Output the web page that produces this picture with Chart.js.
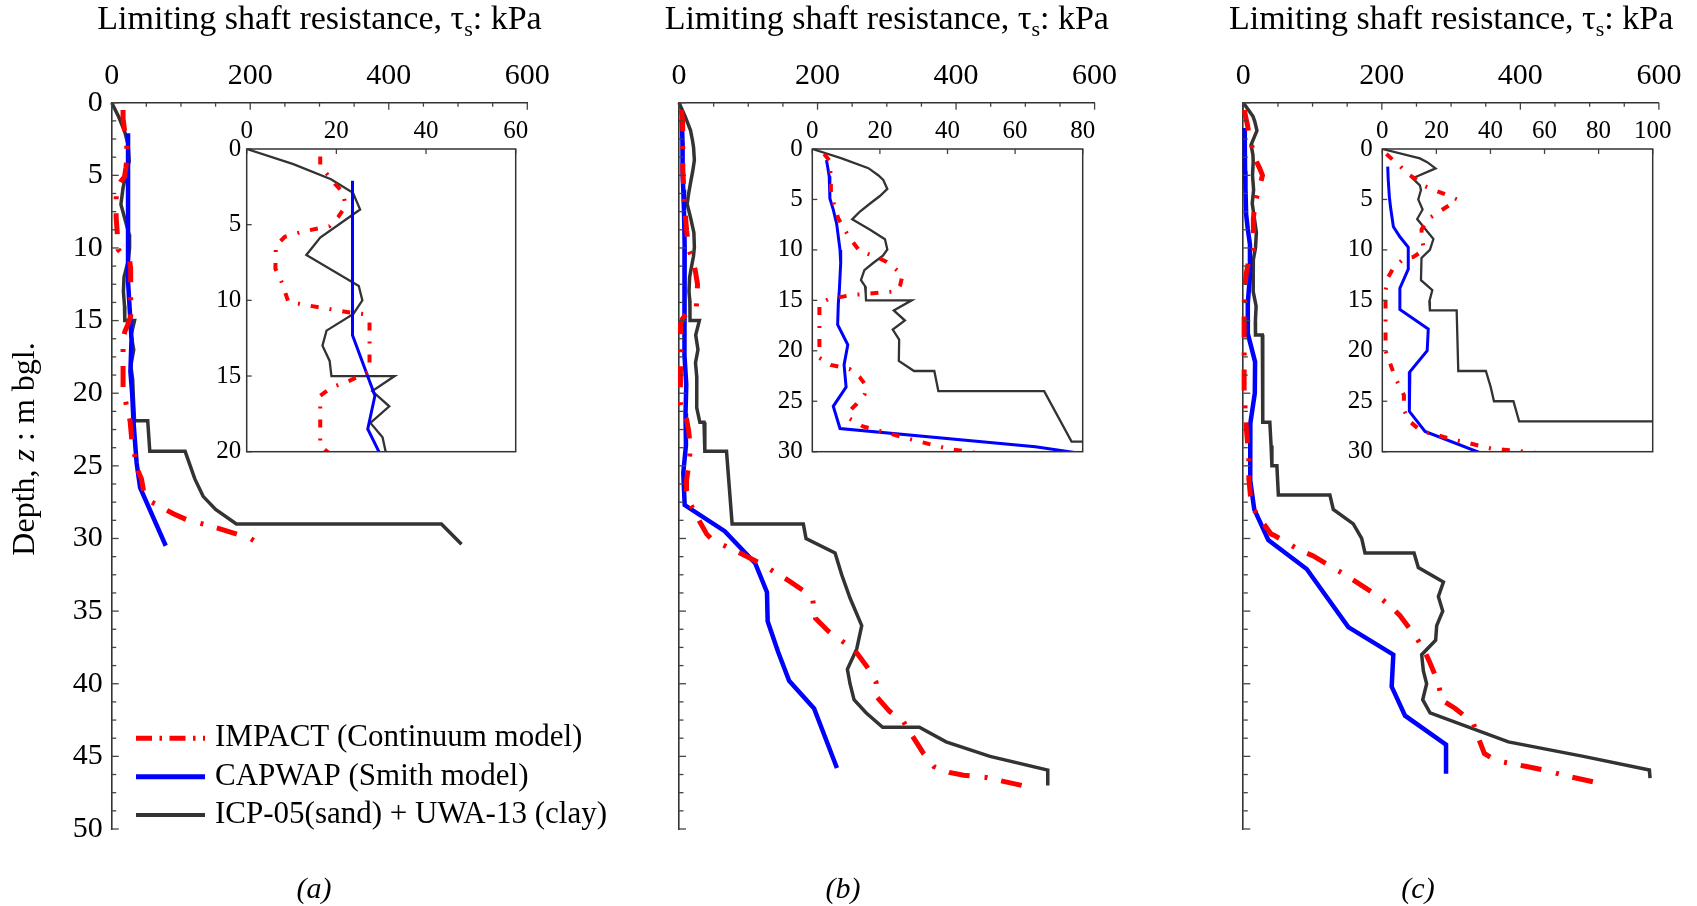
<!DOCTYPE html>
<html>
<head>
<meta charset="utf-8">
<script src="https://cdn.jsdelivr.net/npm/chart.js@4.4.0/dist/chart.umd.min.js"></script>
<style>
  html, body { margin: 0; padding: 0; background: #fff; }
  #fig { position: relative; width: 1697px; height: 906px; overflow: hidden; background: #fff; }
  #fig canvas { position: absolute; }
</style>
</head>
<body>
<div id="fig">
  <canvas id="mainA"></canvas>
  <canvas id="mainB"></canvas>
  <canvas id="mainC"></canvas>
  <canvas id="insetA"></canvas>
  <canvas id="insetB"></canvas>
  <canvas id="insetC"></canvas>
</div>
<script>
// ---- profiles: [tau_s (kPa), z (m bgl)] ----
const impactA = [[16.4,0.5],[16.4,1.1],[19.7,2.3],[21.6,2.9],[22,3.8],[20.4,4.5],[18.5,5.1],[12.6,5.45],[8.5,5.8],[6.5,6.4],[6.4,7.9],[7.8,8.8],[9.3,10.1],[14,10.35],[23,10.8],[26,10.9],[27.4,11.4],[27.4,14.7],[23,15.3],[19,15.75],[16.4,16.3],[16.4,19.6],[20.7,20.7],[26.5,21.9],[29,23.2],[33,24.2],[38.5,25.4],[43,25.9],[47,27],[58,27.5],[89,28.3],[108,28.7],[154,29.3],[200,30],[214,30.4]];
const capwapA = [[23.6,2.1],[23.6,12.3],[28.6,16.3],[27,18.5],[29.5,20],[31.5,22],[36,24.8],[41,26.5],[78,30.5]];
const icpA = [[0,0],[10.4,1],[18.8,2],[23.7,2.9],[25.3,4],[16.4,5.85],[13.3,7],[23.6,8.8],[25,9.05],[25.8,10],[23.8,10.9],[17.8,12],[16.9,13],[18.5,14],[18.9,15],[33,15],[28,16],[31.8,17],[27.6,18.1],[30.3,19.05],[31,20],[33,21.9],[52,21.9],[55,24],[106,24],[120,25.9],[132,27.1],[150,28],[180,29],[476,29],[505,30.4]];

const impactB = [[3.5,0.5],[5.2,1.2],[5.5,3.2],[5.5,4.5],[7.7,6.9],[11,8.8],[14,10.1],[19,10.7],[22,11.2],[24,11.7],[26.7,12.5],[26,13.5],[24.9,14.1],[11,14.5],[4.7,14.9],[2.1,15.3],[2.1,20.7],[5.4,21.4],[11,21.8],[14,22.6],[16,23.5],[15.5,24.3],[13,25.3],[10.9,26],[10.9,26.7],[15,27.5],[19.5,27.9],[29.4,28.8],[40,29.7],[48,30.1],[88,31],[117,31.7],[155,32.8],[183,33.7],[193,34.2],[197,35.5],[216,36.4],[254,37.7],[271,38.8],[284.5,39.9],[285.4,40.9],[304,41.9],[324,42.6],[337,43.6],[353,44.8],[368,45.7],[390,46.1],[411,46.3],[443,46.45],[495,47]];
const capwapB = [[4.2,1.1],[5,2.7],[5.2,4.9],[6.2,6],[7.2,7.4],[8.2,10],[8.4,11.3],[8,14],[7.7,15.3],[7.5,17.4],[10.5,19.4],[9.4,21.4],[10,23.6],[6.2,25.5],[8.2,27.7],[66,29.5],[110,31.7],[127,33.7],[128,35.7],[143,37.8],[159,39.8],[195,41.7],[228,45.8]];
const icpB = [[0,0],[8.7,0.93],[16.6,1.9],[19.5,2.6],[21,3.07],[22.2,3.96],[20,4.66],[17.1,5.4],[14.1,6.2],[11.8,6.97],[17.1,8],[21.5,8.95],[22.2,9.95],[20.9,10.57],[18,11.3],[15.4,12],[14.4,13],[15.6,13.6],[15.8,14.3],[15.9,15],[29.4,15],[24.1,16],[27.4,17],[23.8,17.9],[25.7,18.9],[25.6,21],[30.1,22],[36.1,22],[37.3,24],[68.6,24],[76.7,29],[179.5,29],[183.4,30],[225.3,31],[234.9,32.5],[246.9,34.1],[263.8,36],[256.6,37.6],[243.1,39],[246.9,40],[252.7,41.1],[270,42],[294,43],[347,43],[385.6,44],[449,45],[532.4,45.94],[532.4,47]];

const impactC = [[1.5,0.5],[4,1.1],[6.3,1.6],[9,2.4],[13,3.1],[15,3.6],[19,4.05],[23.5,4.5],[27.7,5],[24,5.7],[20,6.4],[16.6,7],[14.5,8],[14.7,8.9],[15.4,10],[11.5,10.7],[7.8,10.9],[4.1,11.8],[2.2,12.7],[1.2,14],[1.2,20],[3.1,21.4],[4.7,22.6],[6.5,23.6],[8,24.4],[8,25.9],[10.2,27],[14.5,28],[18.2,28.2],[26.3,28.8],[31.2,29.1],[40.4,29.7],[45,29.8],[60,30.2],[81,30.8],[101,31.2],[129,32],[147,32.5],[192.5,33.9],[211,34.6],[226,35.3],[248,36.7],[260,37.6],[269,38.5],[282,40],[286,41.1],[306,41.7],[332,42.7],[340,43.8],[348,44.8],[365,45.3],[387.5,45.5],[409,45.7],[440,46],[462,46.3],[505,46.75]];
const capwapC = [[2,1.75],[2.2,3.07],[2.6,4.72],[3.1,5.88],[4.1,7.7],[6.5,8.7],[9.6,9.75],[9.6,11.9],[6.5,13.8],[6.5,15.9],[17,17.84],[16.6,20],[10.2,22.07],[10,26],[15.8,28],[36.1,30.1],[91.5,32.1],[151.6,36.1],[216.6,38],[214.2,40.2],[233.5,42.2],[292.7,44.2],[292.7,46.2]];
const icpC = [[0,0],[13.9,0.93],[16.6,1.3],[19.7,1.92],[11.2,2.9],[13.9,3.6],[14.3,4.06],[13.3,5],[14.9,6],[12.9,6.94],[18.9,8.92],[17.6,10],[14.5,10.8],[14.3,13],[18.5,14],[17.4,15.1],[17.6,16],[27.5,16],[28.1,22],[38.3,22],[40.1,23.6],[41.3,25],[48.5,25],[50.6,27],[125,27],[129.9,28],[158.8,29],[170.9,30],[175.7,31],[246.5,31],[252.7,32],[288.9,33],[281.6,34],[287.9,35],[279.2,36],[277.7,37],[257.5,38],[259.9,39.1],[264.7,40],[259,41.1],[269.6,42],[382.7,44],[491,45],[586.3,45.94],[587.2,46.5]];

// ---- labels and ticks ----
const seriesNames = ['IMPACT (Continuum model)', 'CAPWAP (Smith model)', 'ICP-05(sand) + UWA-13 (clay)'];
const xTitle = ['Limiting shaft resistance, \u03c4', 's', ': kPa'];
const yTitle = ['Depth, ', 'z', ' : m bgl.'];
const panelLabels = ['(a)', '(b)', '(c)'];
const mainTauTicks = [0, 200, 400, 600];
const mainDepthTicks = [0, 5, 10, 15, 20, 25, 30, 35, 40, 45, 50];
const insetTauTicksA = [0, 20, 40, 60];
const insetTauTicksB = [0, 20, 40, 60, 80];
const insetTauTicksC = [0, 20, 40, 60, 80, 100];
const insetDepthTicksA = [0, 5, 10, 15, 20];
const insetDepthTicksBC = [0, 5, 10, 15, 20, 25, 30];

const SERIF = '"Liberation Serif", "Times New Roman", serif';
const RED = '#ff0000', BLUE = '#0000ff', GREY = '#333333';
const INK = '#000';

// extra drawing info per canvas (kept out of chart options)
const extras = {};

function drawRich(ctx, parts, x, y) {
  // parts: [text, font, dy]; centred on x, baseline y
  let w = 0;
  parts.forEach(p => { ctx.font = p[1]; w += ctx.measureText(p[0]).width; });
  let cx = x - w / 2;
  ctx.textAlign = 'left';
  ctx.textBaseline = 'alphabetic';
  parts.forEach(p => {
    ctx.font = p[1];
    ctx.fillText(p[0], cx, y + p[2]);
    cx += ctx.measureText(p[0]).width;
  });
}

function tickRun(ctx, spec, scale, from, horizontal) {
  if (!spec) return;
  const n = Math.round((scale.max - scale.min) / spec.step);
  for (let i = 0; i <= n; i++) {
    const v = scale.min + i * spec.step;
    const p = scale.getPixelForValue(v);
    const len = i % spec.every === 0 ? spec.major : spec.minor;
    ctx.beginPath();
    if (horizontal) { ctx.moveTo(p, from); ctx.lineTo(p, from + len); }
    else { ctx.moveTo(from, p); ctx.lineTo(from + len, p); }
    ctx.stroke();
  }
}

const decor = {
  id: 'decor',
  beforeDraw(chart) {
    const ex = extras[chart.canvas.id];
    if (!ex.fill) return;
    const a = chart.chartArea, ctx = chart.ctx;
    ctx.save();
    ctx.fillStyle = ex.fill;
    ctx.fillRect(a.left, a.top, a.right - a.left, a.bottom - a.top);
    ctx.restore();
  },
  afterDraw(chart) {
    const ex = extras[chart.canvas.id];
    const ctx = chart.ctx, a = chart.chartArea, off = ex.box;
    ctx.save();
    ctx.strokeStyle = '#444';
    ctx.lineWidth = 1.3;
    tickRun(ctx, ex.xTicks, chart.scales.x, a.top, true);
    tickRun(ctx, ex.yTicks, chart.scales.y, a.left, false);
    if (ex.frame) {
      ctx.strokeStyle = GREY;
      ctx.lineWidth = 1.5;
      ctx.strokeRect(a.left, a.top, a.right - a.left, a.bottom - a.top);
    }
    ctx.fillStyle = INK;
    if (ex.title) {
      drawRich(ctx, [[xTitle[0], '34px ' + SERIF, 0], [xTitle[1], '22px ' + SERIF, 7], [xTitle[2], '34px ' + SERIF, 0]],
        (a.left + a.right) / 2, 28.6);
    }
    if (ex.panel) {
      ctx.font = 'italic 30px ' + SERIF;
      ctx.textAlign = 'center';
      ctx.textBaseline = 'middle';
      ctx.fillText(ex.panel, ex.panelX - off.x, 890 - off.y);
    }
    if (ex.yTitle) {
      ctx.save();
      ctx.translate(34, 449);
      ctx.rotate(-Math.PI / 2);
      drawRich(ctx, [[yTitle[0], '32px ' + SERIF, 0], [yTitle[1], 'italic 32px ' + SERIF, 0], [yTitle[2], '32px ' + SERIF, 0]], 0, 0);
      ctx.restore();
    }
    if (ex.legend) {
      const rows = [738.3, 776.7, 815];
      const dashes = [[16, 7.5, 2.5, 7.5], [], []];
      chart.data.datasets.forEach((ds, i) => {
        ctx.save();
        ctx.strokeStyle = ds.borderColor;
        ctx.lineWidth = i === 2 ? 4 : 5;
        ctx.lineCap = 'butt';
        ctx.setLineDash(dashes[i]);
        ctx.beginPath();
        ctx.moveTo(136, rows[i]);
        ctx.lineTo(205, rows[i]);
        ctx.stroke();
        ctx.restore();
        ctx.font = '31px ' + SERIF;
        ctx.textAlign = 'left';
        ctx.textBaseline = 'middle';
        ctx.fillStyle = INK;
        ctx.fillText(ds.label, 215, rows[i]);
      });
    }
    ctx.restore();
  }
};

function toPts(arr) { return arr.map(p => ({x: p[0], y: p[1]})); }

function datasets(series, widths, redDash, clip) {
  const colors = [RED, BLUE, GREY];
  return series.map((s, i) => ({
    label: seriesNames[i],
    data: toPts(s),
    showLine: true,
    borderColor: colors[i],
    borderWidth: widths[i],
    borderDash: i === 0 ? redDash : [],
    borderCapStyle: 'butt',
    borderJoinStyle: 'miter',
    pointRadius: 0,
    pointHoverRadius: 0,
    tension: 0,
    fill: false,
    clip: clip
  }));
}

function build(id, box, area, cfg) {
  const cv = document.getElementById(id);
  cv.width = box.w; cv.height = box.h;
  cv.style.left = box.x + 'px'; cv.style.top = box.y + 'px';
  cv.style.width = box.w + 'px'; cv.style.height = box.h + 'px';
  extras[id] = Object.assign({box: box}, cfg.extra);
  const tickFont = {family: SERIF, size: cfg.fontSize};
  return new Chart(cv, {
    type: 'scatter',
    data: {datasets: cfg.datasets},
    options: {
      responsive: false,
      animation: false,
      devicePixelRatio: 1,
      events: [],
      layout: {
        autoPadding: false,
        padding: {left: 0, top: 0, right: box.x + box.w - area.right, bottom: box.y + box.h - area.bottom}
      },
      plugins: {legend: {display: false}, tooltip: {enabled: false}},
      scales: {
        x: {
          type: 'linear', position: 'top', min: 0, max: cfg.xMax,
          afterBuildTicks: s => { s.ticks = cfg.xTicks.map(v => ({value: v})); },
          afterFit: s => { s.height = area.top - box.y; s.paddingLeft = 0; s.paddingRight = 0; },
          ticks: {font: tickFont, color: INK, padding: cfg.xPad, autoSkip: false, maxRotation: 0, minRotation: 0},
          grid: {display: false, drawTicks: false},
          border: {display: cfg.axisLines, color: GREY, width: 1.6}
        },
        y: {
          type: 'linear', position: 'left', min: 0, max: cfg.yMax, reverse: true,
          afterBuildTicks: s => { s.ticks = cfg.yTicks.map(v => ({value: v})); },
          afterFit: s => { s.width = area.left - box.x; s.paddingTop = 0; s.paddingBottom = 0; },
          ticks: {display: cfg.yLabels, font: tickFont, color: INK, padding: cfg.yPad, autoSkip: false},
          grid: {display: false, drawTicks: false},
          border: {display: cfg.axisLines, color: GREY, width: 1.6}
        }
      }
    },
    plugins: [decor]
  });
}

const mainWidths = [5, 4.5, 3.5];
const insetWidths = [4, 3, 2.3];
const mainDash = [21, 15, 3, 14];
const insetDash = [8, 11, 2, 11];
const allSeries = [[impactA, capwapA, icpA], [impactB, capwapB, icpB], [impactC, capwapC, icpC]];

const mainLayout = [
  {id: 'mainA', box: {x: 0, y: 0, w: 640, h: 906}, area: {left: 111.7, top: 102.7, right: 527.3, bottom: 829}, panelX: 314},
  {id: 'mainB', box: {x: 560, y: 0, w: 580, h: 906}, area: {left: 679, top: 102.7, right: 1094.6, bottom: 829}, panelX: 843},
  {id: 'mainC', box: {x: 1120, y: 0, w: 577, h: 906}, area: {left: 1243.3, top: 102.7, right: 1658.9, bottom: 829}, panelX: 1418}
];
mainLayout.forEach((m, k) => {
  build(m.id, m.box, m.area, {
    datasets: datasets(allSeries[k], mainWidths, mainDash, 2.5),
    xMax: 600, yMax: 50, xTicks: mainTauTicks, yTicks: mainDepthTicks,
    fontSize: 30, xPad: 9, yPad: 9, yLabels: k === 0, axisLines: true,
    extra: {
      xTicks: {step: 50, every: 4, major: 7, minor: 4},
      yTicks: {step: 1.25, every: 4, major: 7, minor: 4.5},
      title: true, panel: panelLabels[k], panelX: m.panelX,
      yTitle: k === 0, legend: k === 0
    }
  });
});

const insetLayout = [
  {id: 'insetA', box: {x: 195, y: 105, w: 340, h: 360}, area: {left: 246.7, top: 149, right: 515.7, bottom: 451.7},
   xMax: 60, yMax: 20, xTicks: insetTauTicksA, yTicks: insetDepthTicksA, yPad: 5.5},
  {id: 'insetB', box: {x: 760, y: 105, w: 345, h: 360}, area: {left: 812.3, top: 149, right: 1082.7, bottom: 451.7},
   xMax: 80, yMax: 30, xTicks: insetTauTicksB, yTicks: insetDepthTicksBC, yPad: 9.5},
  {id: 'insetC', box: {x: 1325, y: 105, w: 372, h: 360}, area: {left: 1382.3, top: 149, right: 1652.7, bottom: 451.7},
   xMax: 100, yMax: 30, xTicks: insetTauTicksC, yTicks: insetDepthTicksBC, yPad: 9.5}
];
insetLayout.forEach((m, k) => {
  build(m.id, m.box, m.area, {
    datasets: datasets(allSeries[k], insetWidths, insetDash, 0),
    xMax: m.xMax, yMax: m.yMax, xTicks: m.xTicks, yTicks: m.yTicks,
    fontSize: 25, xPad: 2.3, yPad: m.yPad, yLabels: true, axisLines: false,
    extra: {
      fill: '#ffffff', frame: true,
      xTicks: {step: 20, every: 1, major: 5, minor: 5},
      yTicks: {step: 5, every: 1, major: 5, minor: 5}
    }
  });
});
</script>
</body>
</html>
